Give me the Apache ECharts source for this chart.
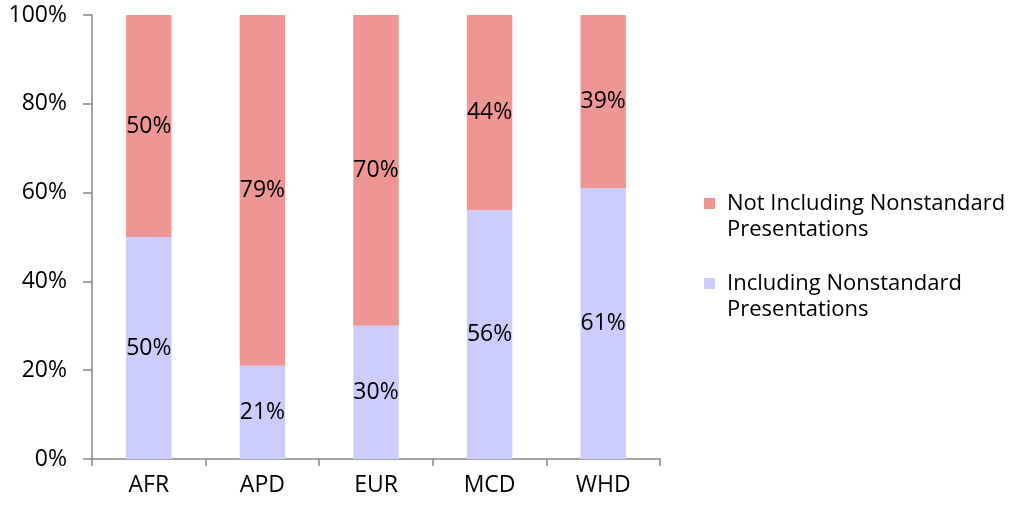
<!DOCTYPE html>
<html>
<head>
<meta charset="utf-8">
<script src="https://cdn.jsdelivr.net/npm/echarts@6/dist/echarts.min.js"></script>
<style>
html,body{margin:0;padding:0;background:#fff;}
#chart{width:1016px;height:507px;}
</style>
</head>
<body>
<div id="chart"></div>
<script>
const categories = ['AFR', 'APD', 'EUR', 'MCD', 'WHD'];
const seriesNames = ['Including Nonstandard Presentations', 'Not Including Nonstandard Presentations'];
const includingValues = [50, 21, 30, 56, 61];
const notIncludingValues = [50, 79, 70, 44, 39];
const yTicks = [0, 20, 40, 60, 80, 100];

const FONT = 'Open Sans';
const axisColor = '#868686';
const LH = 26;

const chart = echarts.init(document.getElementById('chart'));
chart.setOption({
  animation: false,
  textStyle: { fontFamily: FONT },
  grid: { left: 92, right: 356, top: 15, bottom: 48, containLabel: false },
  legend: {
    orient: 'vertical',
    left: 704,
    top: 198 - (1.5 * LH - 5.5),
    padding: 0,
    itemWidth: 11,
    itemHeight: 11,
    itemGap: 80 - 3 * LH,
    icon: 'rect',
    data: [seriesNames[1], seriesNames[0]],
    formatter: function (name) {
      const parts = name.split(' Nonstandard ');
      return '{s| }\n{t|' + parts[0] + ' Nonstandard}\n{t|' + parts[1] + '}';
    },
    textStyle: {
      fontFamily: FONT,
      fontSize: 22,
      color: '#000',
      lineHeight: LH,
      rich: {
        s: { fontFamily: FONT, fontSize: 22, lineHeight: LH },
        t: { fontFamily: FONT, fontSize: 22, lineHeight: LH, color: '#000', padding: [0, 0, 0, 7] }
      }
    }
  },
  xAxis: {
    type: 'category',
    data: categories,
    axisLine: { lineStyle: { color: axisColor, width: 1.5 } },
    axisTick: { show: true, length: 7, lineStyle: { color: axisColor, width: 1.5 } },
    axisLabel: { color: '#000', fontSize: 23, fontFamily: FONT, margin: 15 }
  },
  yAxis: {
    type: 'value',
    min: yTicks[0],
    max: yTicks[yTicks.length - 1],
    interval: 20,
    axisLine: { show: true, lineStyle: { color: axisColor, width: 1.5 } },
    axisTick: { show: true, length: 9, lineStyle: { color: axisColor, width: 1.5 } },
    splitLine: { show: false },
    axisLabel: { color: '#000', fontSize: 23, fontFamily: FONT, margin: 25, formatter: '{value}%' }
  },
  series: [
    {
      name: seriesNames[0],
      type: 'bar',
      stack: 'total',
      barWidth: '40%',
      data: includingValues,
      itemStyle: { color: '#CCCCFF' },
      label: { show: true, position: 'inside', color: '#000', fontSize: 23, fontFamily: FONT, formatter: '{c}%' }
    },
    {
      name: seriesNames[1],
      type: 'bar',
      stack: 'total',
      barWidth: '40%',
      data: notIncludingValues,
      itemStyle: { color: '#EE9694' },
      label: { show: true, position: 'inside', color: '#000', fontSize: 23, fontFamily: FONT, formatter: '{c}%' }
    }
  ]
});
</script>
</body>
</html>
